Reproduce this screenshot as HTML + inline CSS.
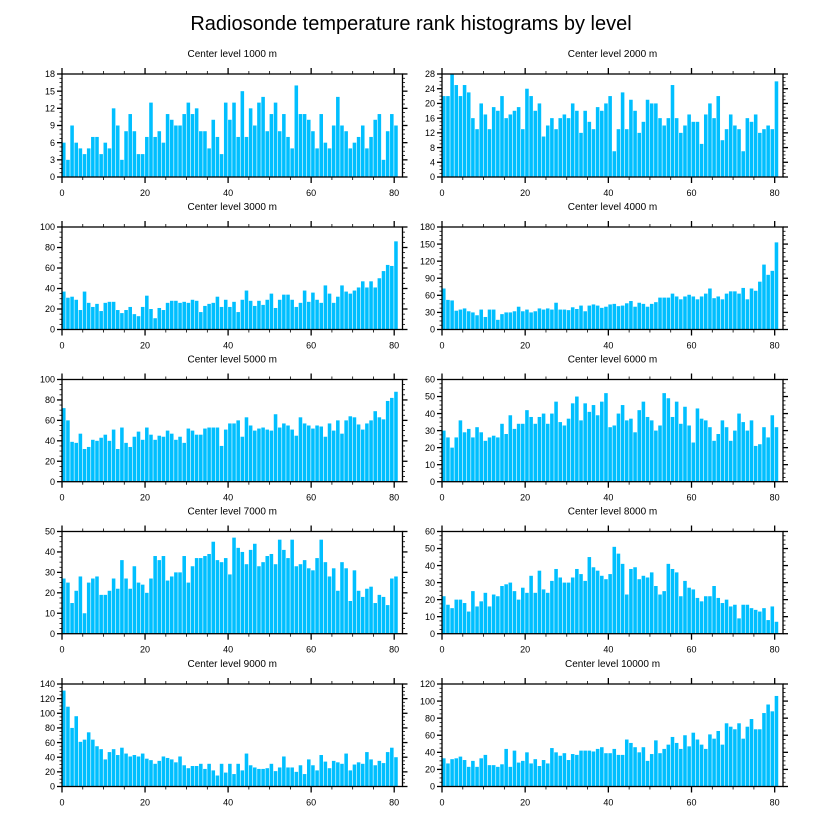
<!DOCTYPE html>
<html><head><meta charset="utf-8">
<style>
html,body{margin:0;padding:0;background:#fff;}
svg{display:block;font-family:"Liberation Sans",sans-serif;}
</style></head>
<body>
<svg id="chart" width="822" height="824" viewBox="0 0 822 824">
<text x="411" y="30" text-anchor="middle" font-size="20" fill="#000">Radiosonde temperature rank histograms by level</text>
</svg>
<script>
const levelNames = ["Center level 1000 m","Center level 2000 m","Center level 3000 m","Center level 4000 m","Center level 5000 m","Center level 6000 m","Center level 7000 m","Center level 8000 m","Center level 9000 m","Center level 10000 m"];
const yMax = [18,28,100,180,100,60,50,60,140,120];
const yStep = [3,4,20,30,20,10,10,10,20,20];
const xTicks = [0,20,40,60,80];
const counts1000 = [6,3,9,6,5,4,5,7,7,4,6,5,12,9,3,8,11,8,4,4,7,13,7,8,6,11,10,9,9,11,13,11,12,8,8,5,10,7,4,13,10,13,7,15,7,12,9,13,14,8,11,13,8,11,7,5,16,11,11,10,8,5,11,6,5,9,14,9,8,5,6,7,9,5,7,10,11,3,8,11,9];
const counts2000 = [22,22,28,25,22,25,23,16,13,20,17,13,19,18,22,16,17,18,19,13,24,22,18,20,11,14,16,13,16,17,16,20,18,12,18,15,13,19,18,20,22,7,13,23,13,21,18,12,15,21,20,20,16,14,16,25,16,12,14,17,15,15,9,17,20,16,22,10,13,17,14,13,7,16,15,17,12,13,14,13,26];
const counts3000 = [37,31,32,29,19,37,26,22,25,18,26,27,27,19,16,19,22,15,13,22,33,20,11,21,19,26,28,28,26,27,26,29,28,17,23,25,26,32,22,29,22,27,17,29,38,28,23,28,24,29,35,21,29,34,34,29,22,26,38,27,36,29,26,43,35,26,32,43,37,35,38,41,47,41,47,41,50,57,63,62,86];
const counts4000 = [72,52,51,33,35,37,32,30,25,35,22,35,35,17,27,30,30,32,40,32,35,30,32,37,35,37,35,47,35,35,34,39,36,42,32,42,44,42,38,40,44,45,41,42,46,50,40,47,45,40,45,48,56,56,56,63,58,53,58,61,58,53,58,63,72,55,58,53,63,67,67,63,73,53,72,68,84,114,96,103,153];
const counts5000 = [72,60,39,38,47,32,34,41,40,43,46,40,51,32,53,38,34,44,49,41,53,46,41,45,44,50,47,41,44,38,52,50,46,46,52,53,53,53,35,51,57,57,60,44,63,55,50,52,53,51,50,66,53,57,55,51,45,63,57,55,52,55,54,44,57,50,60,47,60,64,63,56,51,57,60,69,63,61,79,82,88];
const counts6000 = [30,26,20,26,36,29,31,26,32,29,24,26,27,26,34,28,39,31,34,34,42,38,34,38,40,34,40,47,35,33,37,46,50,36,46,41,45,39,47,52,32,33,40,45,36,37,29,42,47,38,36,30,33,52,49,38,47,34,44,33,23,43,37,36,32,24,28,36,32,24,30,40,35,30,36,21,22,32,26,39,32];
const counts7000 = [27,25,15,21,28,10,25,27,28,19,19,21,27,22,36,27,22,33,25,24,20,27,38,36,38,26,28,30,30,38,25,33,37,37,38,39,45,36,35,37,29,47,42,40,34,41,44,33,35,38,39,34,46,41,37,46,33,34,36,32,31,37,46,35,28,32,21,35,32,16,31,21,18,22,23,15,19,18,14,27,28];
const counts8000 = [22,17,15,20,20,18,13,25,16,19,24,16,23,22,28,29,30,25,20,27,24,34,24,37,26,24,31,38,33,30,30,33,38,35,31,45,39,37,34,32,35,51,47,41,23,38,39,32,34,33,36,28,23,25,41,38,36,22,31,27,26,21,19,22,22,28,21,18,20,16,17,9,17,17,15,14,13,15,8,16,7];
const counts9000 = [131,109,80,96,61,64,74,64,55,51,37,47,51,43,53,45,41,43,41,45,38,36,31,35,41,39,37,33,41,29,25,28,28,31,24,31,22,15,31,19,31,17,31,22,45,29,26,24,24,25,31,21,26,41,26,26,20,29,17,37,29,22,43,34,25,35,33,31,45,22,30,33,31,47,37,29,35,32,47,53,40];
const counts10000 = [33,27,32,33,35,31,23,30,23,33,37,25,25,23,26,44,23,42,28,30,40,27,32,24,31,27,45,40,36,39,31,38,37,42,42,42,41,44,46,39,39,44,37,37,55,51,46,40,46,30,38,54,39,44,49,58,51,44,60,47,63,55,49,44,61,56,65,49,74,70,67,74,56,70,79,67,67,86,96,88,106];
const allCounts = [counts1000,counts2000,counts3000,counts4000,counts5000,counts6000,counts7000,counts8000,counts9000,counts10000];

const NS = "http://www.w3.org/2000/svg";
const svg = document.getElementById("chart");
const colLeft = [62, 442];
const colRight = [402.5, 783];
const rowTop = [74, 227, 379.5, 531.5, 684];
const rowBot = [177, 329.5, 481.7, 633.7, 786.5];
const X_MAX = 82;

function mk(tag, attrs, parent) {
  const e = document.createElementNS(NS, tag);
  for (const k in attrs) e.setAttribute(k, attrs[k]);
  (parent || svg).appendChild(e);
  return e;
}

for (let p = 0; p < 10; p++) {
  const col = p % 2, row = Math.floor(p / 2);
  const L = colLeft[col], R = colRight[col], T = rowTop[row], B = rowBot[row];
  const xs = v => L + (R - L) * v / X_MAX;
  const ys = v => B - (B - T) * v / yMax[p];
  const g = mk("g", {});
  
  

  const t = mk("text", {x: (L + R) / 2, y: T - 17, "text-anchor": "middle", "font-size": "10", fill: "#000"}, g);
  t.textContent = levelNames[p];
  
  

  const data = allCounts[p];
  for (let i = 0; i < data.length; i++) {
    const x0 = xs(i), x1 = xs(i + 1), y = ys(data[i]);
    const r = mk("rect", {x: x0, y: y, width: Math.max(0.5, x1 - x0 - 0.6), height: B - y, fill: "#00bfff"}, g);
    
    
  }

  const f = mk("rect", {x: L, y: T, width: R - L, height: B - T, fill: "none", stroke: "#000", "stroke-width": "1.3"}, g);
  
  

  // x ticks
  for (let v = 0; v <= 80; v += 5) {
    const major = v % 20 === 0;
    const len = major ? 6 : 3;
    const x = xs(v);
    mk("line", {x1: x, y1: B, x2: x, y2: B + len, stroke: "#000", "stroke-width": major ? 1.3 : 0.8}, g);
    mk("line", {x1: x, y1: T, x2: x, y2: T - len, stroke: "#000", "stroke-width": major ? 1.3 : 0.8}, g);
  }
  for (const v of xTicks) {
    const tl = mk("text", {x: xs(v), y: B + 19, "text-anchor": "middle", "font-size": "9", fill: "#000"}, g);
    tl.textContent = v;
    
    
  }
  // y ticks
  const minor = yStep[p] / 4;
  for (let k = 0; k <= Math.round(yMax[p] / minor); k++) {
    const v = k * minor;
    const major = k % 4 === 0;
    const len = major ? 5 : 2.5;
    const y = ys(v);
    mk("line", {x1: L, y1: y, x2: L - len, y2: y, stroke: "#000", "stroke-width": major ? 1.3 : 0.8}, g);
    mk("line", {x1: R, y1: y, x2: R + len, y2: y, stroke: "#000", "stroke-width": major ? 1.3 : 0.8}, g);
  }
  for (let v = 0; v <= yMax[p]; v += yStep[p]) {
    const yl = mk("text", {x: L - 7, y: ys(v) + 3.2, "text-anchor": "end", "font-size": "9", fill: "#000"}, g);
    yl.textContent = v;
    
    
  }
}
</script>
</body></html>
